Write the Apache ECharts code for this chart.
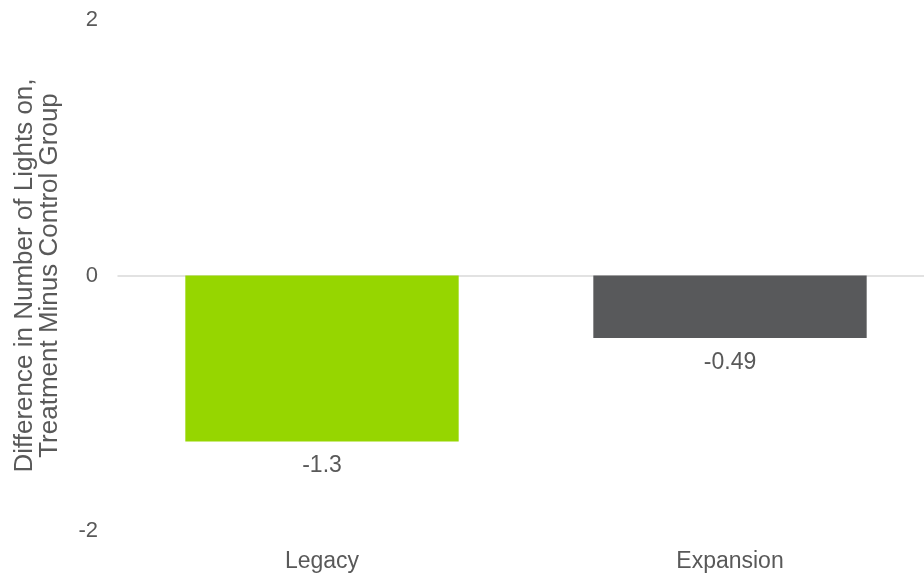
<!DOCTYPE html>
<html>
<head>
<meta charset="utf-8">
<script src="https://cdn.jsdelivr.net/npm/echarts@6/dist/echarts.min.js"></script>
<style>
  html, body { margin: 0; padding: 0; background: #fff; }
  #chart { width: 924px; height: 574px; }
</style>
</head>
<body>
<div id="chart"></div>
<script>
// Program groups and the treatment-minus-control difference for each
const categories = ['Legacy', 'Expansion'];
const values = [-1.3, -0.49];
const barColors = ['#96D600', '#58595B'];
const yTicks = { min: -2, max: 2, interval: 2 };
const yTitle = 'Difference in Number of Lights on,\nTreatment Minus Control Group';

const textColor = '#595959';
const font = 'Liberation Sans, Arial, sans-serif';

const chart = echarts.init(document.getElementById('chart'), null, { renderer: 'canvas' });
chart.setOption({
  animation: false,
  backgroundColor: '#ffffff',
  // the plot runs slightly past the right edge of the canvas
  grid: { left: 118, top: 20, bottom: 43, width: 816, containLabel: false, outerBoundsMode: 'none' },
  xAxis: {
    type: 'category',
    data: categories,
    position: 'bottom',
    axisLine: { onZero: true, lineStyle: { color: '#D9D9D9', width: 1.5 } },
    axisTick: { show: false },
    axisLabel: {
      interval: 0,
      color: textColor,
      fontFamily: font,
      fontSize: 23,
      margin: 19
    }
  },
  yAxis: {
    type: 'value',
    min: yTicks.min,
    max: yTicks.max,
    interval: yTicks.interval,
    name: yTitle,
    nameLocation: 'middle',
    nameRotate: 90,
    nameGap: 56,
    nameTextStyle: { color: textColor, fontFamily: font, fontSize: 26, lineHeight: 25 },
    axisLine: { show: false },
    axisTick: { show: false },
    splitLine: { show: false },
    axisLabel: { color: textColor, fontFamily: font, fontSize: 22, margin: 20 }
  },
  series: [{
    type: 'bar',
    barWidth: '67%',
    data: values.map((v, i) => ({ value: v, itemStyle: { color: barColors[i] } })),
    label: {
      show: true,
      position: 'bottom',
      distance: 13,
      color: textColor,
      fontFamily: font,
      fontSize: 23,
      formatter: (p) => String(p.value)
    }
  }]
});
</script>
</body>
</html>
